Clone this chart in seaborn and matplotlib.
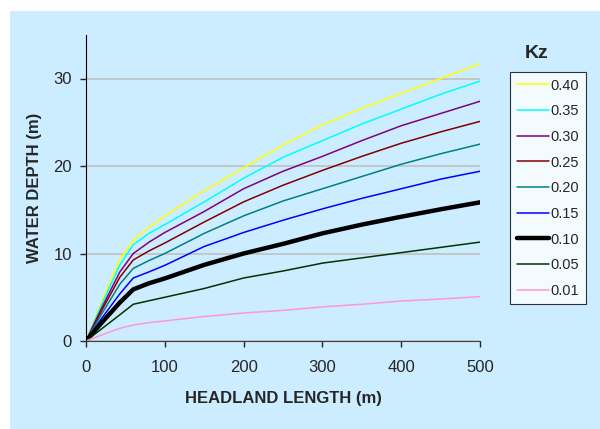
#
## headland_depth.py
#
#  Water depth vs headland length for a range of Kz values.
#

import pandas as pd
import matplotlib
matplotlib.use("Agg")
import matplotlib.pyplot as plt
from matplotlib.patches import Rectangle
import seaborn as sns

headland_length = [0, 20, 43, 60, 80, 100, 150, 200, 250, 300, 350, 400, 450, 500]

kz_labels = ["0.40", "0.35", "0.30", "0.25", "0.20", "0.15", "0.10", "0.05", "0.01"]
depth_040 = [0, 4.5, 9.3, 11.5, 13.0, 14.3, 17.2, 19.8, 22.4, 24.7, 26.6, 28.3, 30.0, 31.7]
depth_035 = [0, 4.2, 8.7, 11.0, 12.3, 13.3, 15.9, 18.6, 21.0, 22.9, 24.8, 26.5, 28.2, 29.7]
depth_030 = [0, 3.8, 7.9, 10.0, 11.3, 12.4, 14.8, 17.4, 19.4, 21.1, 22.9, 24.6, 26.0, 27.4]
depth_025 = [0, 3.5, 7.3, 9.26, 10.3, 11.2, 13.6, 15.9, 17.8, 19.5, 21.1, 22.6, 23.9, 25.1]
depth_020 = [0, 3.1, 6.5, 8.3, 9.2, 10.0, 12.3, 14.3, 16.0, 17.4, 18.8, 20.2, 21.4, 22.5]
depth_015 = [0, 2.6, 5.4, 7.2, 7.9, 8.65, 10.8, 12.4, 13.8, 15.1, 16.3, 17.4, 18.5, 19.4]
depth_010 = [0, 2.1, 4.4, 5.9, 6.6, 7.15, 8.7, 10.0, 11.1, 12.3, 13.3, 14.2, 15.05, 15.85]
depth_005 = [0, 1.4, 3.0, 4.2, 4.6, 5.0, 6.0, 7.2, 8.0, 8.9, 9.5, 10.1, 10.7, 11.3]
depth_001 = [0, 0.7, 1.45, 1.83, 2.1, 2.3, 2.8, 3.2, 3.5, 3.9, 4.2, 4.57, 4.8, 5.07]

depths = [depth_040, depth_035, depth_030, depth_025, depth_020,
          depth_015, depth_010, depth_005, depth_001]
colors = ["#FFFF00", "#00FFFF", "#800080", "#800000", "#008080",
          "#0000FF", "#000000", "#003300", "#FF99CC"]

bg = "#CCECFF"

sns.set_style("white")
plt.rcParams["font.family"] = ["Liberation Sans", "DejaVu Sans"]

fig = plt.figure(figsize=(6, 4.29), dpi=100, facecolor="white")
fig.patches.append(Rectangle((10 / 600, 0), 590 / 600, 418 / 429,
                             transform=fig.transFigure, facecolor=bg,
                             edgecolor="none", zorder=-1))
ax = fig.add_axes([86 / 600, 1 - 341 / 429, 394 / 600, (341 - 34.75) / 429])
ax.set_facecolor(bg)

for label, vals, c in zip(kz_labels, depths, colors):
    df = pd.DataFrame({"x": headland_length, "y": vals})
    lw = 3.2 if label == "0.10" else 1.1
    sns.lineplot(data=df, x="x", y="y", color=c, lw=lw, label=label, ax=ax)

ax.set_xlim(0, 500)
ax.set_ylim(0, 35)
ax.set_xticks([0, 100, 200, 300, 400, 500])
ax.set_yticks([0, 10, 20, 30])
ax.yaxis.grid(True, color="#C0C0C0", lw=1.2)
ax.set_axisbelow(True)
for s in ["top", "right"]:
    ax.spines[s].set_visible(False)
ax.spines["left"].set_color("black")
ax.spines["bottom"].set_color("#404040")
ax.tick_params(axis="both", direction="out", length=4, width=1, labelsize=12,
               bottom=True, left=True)
ax.tick_params(axis="y", pad=6)
ax.tick_params(axis="x", pad=10)

ax.set_xlabel("HEADLAND LENGTH (m)", fontsize=12, fontweight="bold", labelpad=11)
ax.set_ylabel("WATER DEPTH (m)", fontsize=12, fontweight="bold", labelpad=8)

leg = ax.legend(loc="upper left", bbox_to_anchor=(510 / 600, 1 - 72 / 429),
                bbox_transform=fig.transFigure, frameon=True, fontsize=10.5,
                handlelength=2.2, handletextpad=0.15, labelspacing=0.8,
                borderpad=0.45, borderaxespad=0, fancybox=False)
leg.get_frame().set_facecolor("white")
leg.get_frame().set_edgecolor("black")
leg.get_frame().set_linewidth(0.8)

fig.text(537 / 600, 1 - 53 / 429, "Kz", fontsize=14, fontweight="bold",
         ha="center", va="center")

plt.savefig("out.png", dpi=100, facecolor=fig.get_facecolor())
plt.close()
